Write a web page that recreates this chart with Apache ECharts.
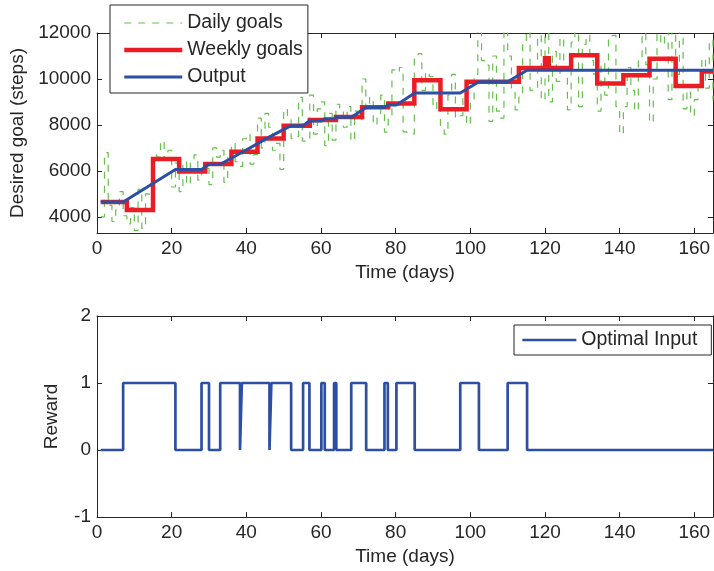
<!DOCTYPE html>
<html><head><meta charset="utf-8">
<script src="https://cdn.jsdelivr.net/npm/echarts@6/dist/echarts.min.js"></script>
<style>html,body{margin:0;padding:0;background:#fff}#c{width:714px;height:571px}</style>
</head><body><div id="c"></div>
<script>
// ---- data ----
const dailyGoals = [
  4000, 6800, 4500, 3800, 4300, 5100, 4050,
  3700, 4400, 3400, 5200, 3500, 5000, 4900,
  6700, 6600, 7300, 6500, 6900, 5300, 6340,
  5100, 6400, 5400, 6500, 6700, 5600, 6160,
  6100, 5400, 7000, 6600, 6900, 5500, 6600,
  7200, 6400, 6200, 7400, 7600, 6300, 6710,
  8300, 7000, 8500, 7900, 6900, 7200, 6070,
  8700, 8400, 7400, 7500, 9200, 7300, 7290,
  9300, 7600, 8700, 9000, 7100, 8500, 7340,
  8900, 8700, 7900, 8800, 7300, 8600, 8250,
  10000, 8700, 9200, 8000, 8500, 9300, 7690,
  8400, 10400, 10300, 10500, 7700, 7600, 7610,
  10900, 11100, 9500, 10300, 10100, 8700, 9000,
  7800, 7600, 9300, 10200, 8300, 8400, 9160,
  8000, 9100, 10200, 12300, 10800, 10600, 8160,
  11000, 8600, 8300, 12200, 11000, 9400, 8660,
  9300, 11600, 12100, 9500, 9600, 12200, 9060,
  12300, 9000, 11200, 9900, 11800, 10500, 8660,
  11600, 12400, 8800, 11500, 11900, 10800, 10210,
  8600, 10700, 9300, 11700, 11900, 8800, 7600,
  8800, 10500, 9500, 8600, 10800, 12300, 10620,
  8100, 10000, 12300, 11500, 12400, 9100, 12760,
  10200, 12100, 8700, 9500, 8400, 9100, 9830,
  10900, 9600, 11700, 9080
];
const weekStarts  = [1, 8, 15, 22, 29, 36, 43, 50, 57, 64, 71, 78, 85, 92, 99, 106, 113, 120, 121, 127, 134, 141, 148, 155, 162, 165];
const weeklyGoals = [4650, 4300, 6520, 5980, 6300, 6830, 7410, 7970, 8220, 8350, 8770, 8930, 9940, 8680, 9880, 9880, 10480, 10900, 10480, 11030, 9800, 10160, 10880, 9690, 10320, 10320];
const outputDays   = [1, 7, 21, 28, 30, 33, 38.3, 38.8, 46.2, 46.7, 52, 55.2, 56.9, 60.1, 61, 63.5, 64.1, 68.1, 72.1, 77, 77.9, 80.2, 85.1, 97.3, 102.3, 110, 115.2, 165];
const outputValues = [4650, 4650, 6060, 6060, 6290, 6290, 6760, 6760, 7480, 7480, 7970, 7970, 8170, 8170, 8270, 8270, 8340, 8340, 8760, 8760, 8870, 8870, 9390, 9390, 9880, 9880, 10380, 10380];
const rewardTimes  = [1, 7, 21, 28, 30, 33, 38.3, 38.8, 46.2, 46.7, 52, 55.2, 56.9, 60.1, 61, 63.5, 64.1, 68.1, 72.1, 77, 77.9, 80.2, 85.1, 97.3, 102.3, 110, 115.2, 165];
const rewardValues = [0, 1, 0, 1, 0, 1, 0, 1, 0, 1, 0, 1, 0, 1, 0, 1, 0, 1, 0, 1, 0, 1, 0, 1, 0, 1, 0, 0];
const xTicks = [0, 20, 40, 60, 80, 100, 120, 140, 160];
const yTicksTop = [4000, 6000, 8000, 10000, 12000];
const yTicksBottom = [-1, 0, 1, 2];

// ---- chart ----
const FONT = '"Liberation Sans", Arial, Helvetica, sans-serif';
const INK = '#262626';
const FS = 19;
const LFS = 19.5;
const plain = v => String(v);
function axisBase(extra) {
  return Object.assign({
    type: 'value',
    axisLine: {show: true, onZero: false, lineStyle: {color: INK, width: 1}},
    splitLine: {show: false},
    nameTextStyle: {color: INK, fontSize: FS, fontFamily: FONT}
  }, extra);
}
function xAx(grid, pos, labels, name) {
  return axisBase({
    gridIndex: grid, position: pos, min: 0, max: 165,
    name: name || '', nameLocation: 'middle', nameGap: 30,
    axisTick: {show: true, inside: true, length: 5, lineStyle: {color: INK}, customValues: xTicks},
    axisLabel: {show: labels, color: INK, fontSize: FS, fontFamily: FONT, margin: 6, customValues: xTicks, formatter: plain}
  });
}
function yAx(grid, pos, labels, ticks, min, max, name, gap) {
  return axisBase({
    gridIndex: grid, position: pos, min: min, max: max,
    name: name || '', nameLocation: 'middle', nameGap: gap || 0,
    axisTick: {show: true, inside: true, length: 5, lineStyle: {color: INK}, customValues: ticks},
    axisLabel: {show: labels, color: INK, fontSize: FS, fontFamily: FONT, margin: 6, customValues: ticks, formatter: plain}
  });
}

const dailyData = dailyGoals.map((v, i) => [i + 1, v]);
const weeklyData = weekStarts.map((d, i) => [d, weeklyGoals[i]]);
const outputData = outputDays.map((d, i) => [d, outputValues[i]]);
const rewardData = rewardTimes.map((d, i) => [d, rewardValues[i]]);

const chart = echarts.init(document.getElementById('c'), null, {renderer: 'canvas'});
chart.setOption({
  animation: false,
  backgroundColor: '#fff',
  grid: [
    {left: 97, top: 33, width: 616, height: 200},
    {left: 97, top: 316, width: 616, height: 201}
  ],
  xAxis: [
    xAx(0, 'bottom', true, 'Time (days)'),
    xAx(0, 'top', false),
    xAx(1, 'bottom', true, 'Time (days)'),
    xAx(1, 'top', false)
  ],
  yAxis: [
    yAx(0, 'left', true, yTicksTop, 3300, 12000, 'Desired goal (steps)', 64),
    yAx(0, 'right', false, yTicksTop, 3300, 12000),
    yAx(1, 'left', true, yTicksBottom, -1, 2, 'Reward', 36),
    yAx(1, 'right', false, yTicksBottom, -1, 2)
  ],
  legend: [
    {
      data: ['Daily goals', 'Weekly goals', 'Output'],
      icon: 'inherit', itemStyle: {opacity: 0}, lineStyle: {width: 'inherit'},
      orient: 'vertical', left: 110, top: 5,
      padding: [8, 5, 6, 12], itemGap: 7, itemWidth: 58, itemHeight: 14,
      backgroundColor: '#fff', borderColor: INK, borderWidth: 1, borderRadius: 0,
      textStyle: {color: INK, fontSize: LFS, fontFamily: FONT}
    },
    {
      data: ['Optimal Input'],
      icon: 'inherit', itemStyle: {opacity: 0}, lineStyle: {width: 'inherit'},
      orient: 'vertical', left: 514, top: 325,
      padding: [5, 14, 5, 7], itemWidth: 54, itemHeight: 14,
      backgroundColor: '#fff', borderColor: INK, borderWidth: 1, borderRadius: 0,
      textStyle: {color: INK, fontSize: LFS, fontFamily: FONT}
    }
  ],
  series: [
    {
      name: 'Daily goals', type: 'line', xAxisIndex: 0, yAxisIndex: 0, step: 'end',
      data: dailyData, symbol: 'none', showSymbol: false, clip: true,
      lineStyle: {color: '#66BF4E', width: 1.2, type: [7, 7]},
      itemStyle: {color: '#66BF4E'}
    },
    {
      name: 'Weekly goals', type: 'line', xAxisIndex: 0, yAxisIndex: 0, step: 'end',
      data: weeklyData, symbol: 'none', showSymbol: false,
      lineStyle: {color: '#EC1C24', width: 4.5, join: 'miter'},
      itemStyle: {color: '#EC1C24'}
    },
    {
      name: 'Output', type: 'line', xAxisIndex: 0, yAxisIndex: 0,
      data: outputData, symbol: 'none', showSymbol: false,
      lineStyle: {color: '#2C4FA3', width: 3},
      itemStyle: {color: '#2C4FA3'}
    },
    {
      name: 'Optimal Input', type: 'line', xAxisIndex: 2, yAxisIndex: 2, step: 'end',
      data: rewardData, symbol: 'none', showSymbol: false,
      lineStyle: {color: '#2C4FA3', width: 2.7},
      itemStyle: {color: '#2C4FA3'}
    }
  ]
});
</script>
</body></html>
